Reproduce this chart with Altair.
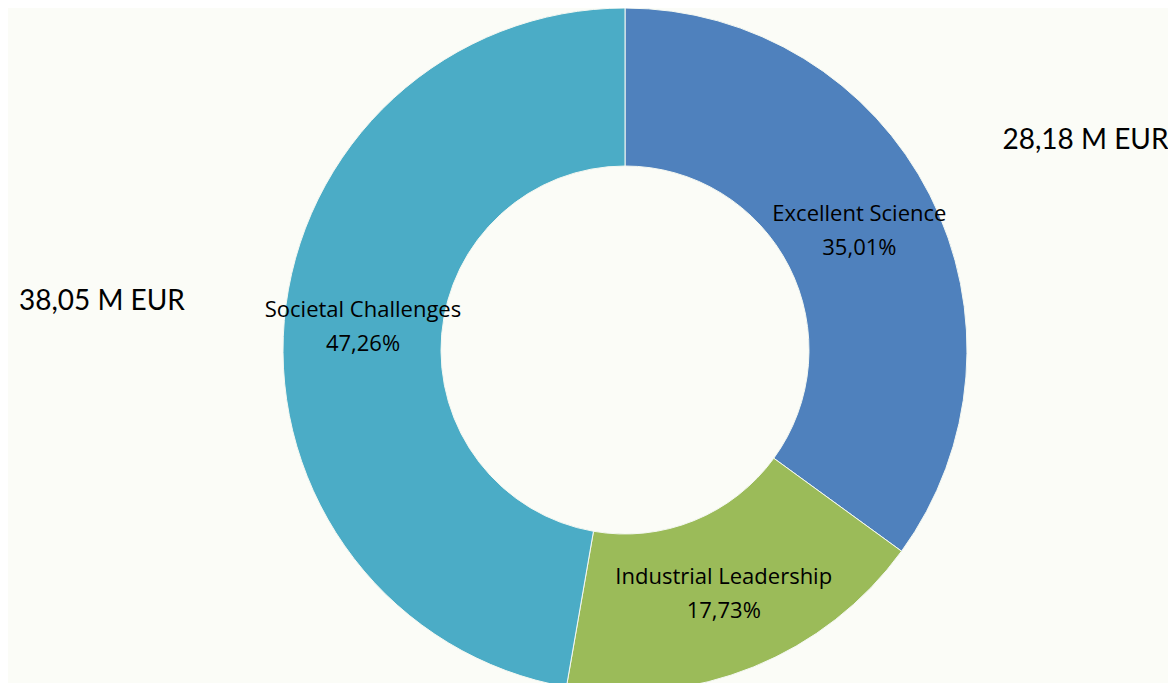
import altair as alt
import pandas as pd

categories = ["Excellent Science", "Industrial Leadership", "Societal Challenges"]
shares = [35.01, 17.73, 47.26]
pct_labels = ["35,01%", "17,73%", "47,26%"]
colors = ["#4F81BD", "#9BBB59", "#4BACC6"]
amount_labels = ["28,18 M EUR", "", "38,05 M EUR"]

df = pd.DataFrame({
    "cat": categories,
    "share": shares,
    "order": [0, 1, 2],
    "label": [c + "\n" + p for c, p in zip(categories, pct_labels)],
    "amount": amount_labels,
})

base = alt.Chart(df).encode(
    theta=alt.Theta("share:Q", stack=True),
    order=alt.Order("order:Q"),
)

arcs = base.mark_arc(outerRadius=342, innerRadius=184, stroke="#F4F8F2", strokeWidth=1).encode(
    color=alt.Color("cat:N", scale=alt.Scale(domain=categories, range=colors), legend=None)
)

inner_text = base.mark_text(radius=263, font="Open Sans", fontSize=22, lineBreak="\n",
                            lineHeight=34, align="center", baseline="middle", dy=-17,
                            color="#000000").encode(text="label:N")

mid_base = alt.Chart(df).transform_window(
    cum="sum(share)", sort=[alt.SortField("order")]
).transform_joinaggregate(total="sum(share)").transform_calculate(
    mid="datum.cum - datum.share / 2"
)
theta_mid = alt.Theta("mid:Q", scale=alt.Scale(domain=[0, 100], range=[0, 6.283185307]))

outer_es = mid_base.transform_filter(alt.datum.cat == "Excellent Science").mark_text(
    radius=510, font="Lato", fontSize=28, align="center", baseline="middle",
    dx=6, dy=22, color="#000000").encode(theta=theta_mid, text="amount:N")

outer_sc = mid_base.transform_filter(alt.datum.cat == "Societal Challenges").mark_text(
    radius=525, font="Lato", fontSize=28, align="center", baseline="middle",
    dy=-3, color="#000000").encode(theta=theta_mid, text="amount:N")

chart = (arcs + inner_text + outer_es + outer_sc).resolve_scale(theta="independent").properties(
    width=1086, height=666,
    padding={"left": 74, "top": 9, "right": 0, "bottom": 0},
    autosize=alt.AutoSizeParams(type="none"),
    background="#FBFCF7",
).configure_view(stroke=None)

chart.save("out.html", embed_options={"renderer": "svg", "actions": False})
